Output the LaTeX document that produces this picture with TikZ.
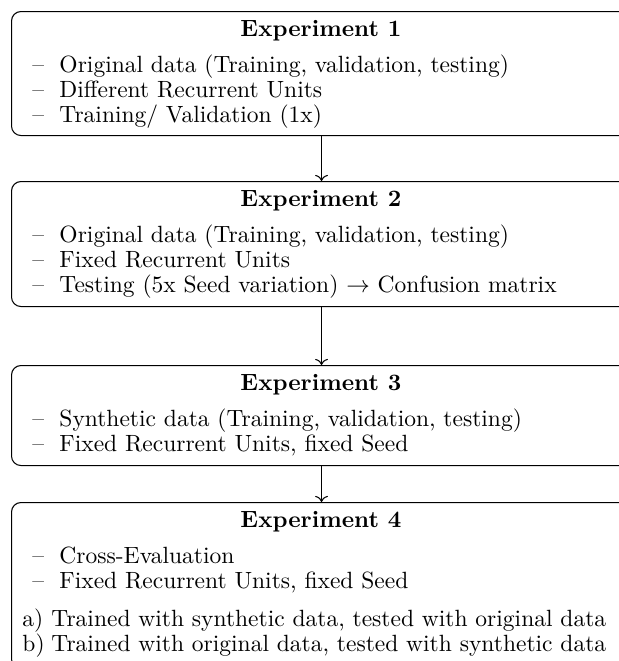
\documentclass[tikz,border=0pt]{standalone}
\usetikzlibrary{arrows.meta}
\def\pxu{0.4255pt}
\tikzset{
  expbox/.style={draw=black, line width=0.45pt, rounded corners=4pt, anchor=north west, inner sep=0pt, minimum width=620*\pxu},
  title/.style={anchor=base, inner sep=0pt, font=\bfseries},
  line/.style={anchor=base west, inner sep=0pt},
  conn/.style={->, line width=0.45pt}
}
\begin{document}
\begin{tikzpicture}[x=0.4255pt, y=-0.4255pt]
\useasboundingbox (0,0) rectangle (619,661);
\clip (0,0) rectangle (619,661);
% boxes
\node[expbox, minimum height=124*\pxu] (e1) at (11,11) {};
\node[expbox, minimum height=125*\pxu] (e2) at (11,181) {};
\node[expbox, minimum height=100*\pxu] (e3) at (11,365) {};
\node[expbox, minimum height=166*\pxu] (e4) at (11,502) {};
% experiment 1
\node[title] (t1) at (321,36) {Experiment 1};
\node[line] (d11) at (32,72) {\textendash};
\node[line] (l11) at (59,72) {Original data (Training, validation, testing)};
\node[line] (d12) at (32,97) {\textendash};
\node[line] (l12) at (59,97) {Different Recurrent Units};
\node[line] (d13) at (32,122) {\textendash};
\node[line] (l13) at (59,122) {Training/ Validation (1x)};
% experiment 2
\node[title] (t2) at (321,206) {Experiment 2};
\node[line] (d21) at (32,242) {\textendash};
\node[line] (l21) at (59,242) {Original data (Training, validation, testing)};
\node[line] (d22) at (32,267) {\textendash};
\node[line] (l22) at (59,267) {Fixed Recurrent Units};
\node[line] (d23) at (32,292) {\textendash};
\node[line] (l23) at (59,292) {Testing (5x Seed variation) $\rightarrow$ Confusion matrix};
% experiment 3
\node[title] (t3) at (321,390) {Experiment 3};
\node[line] (d31) at (32,426) {\textendash};
\node[line] (l31) at (59,426) {Synthetic data (Training, validation, testing)};
\node[line] (d32) at (32,451) {\textendash};
\node[line] (l32) at (59,451) {Fixed Recurrent Units, fixed Seed};
% experiment 4
\node[title] (t4) at (321,527) {Experiment 4};
\node[line] (d41) at (32,563) {\textendash};
\node[line] (l41) at (59,563) {Cross-Evaluation};
\node[line] (d42) at (32,588) {\textendash};
\node[line] (l42) at (59,588) {Fixed Recurrent Units, fixed Seed};
\node[line] (a41) at (22,626) {a)};
\node[line] (a42) at (51,626) {Trained with synthetic data, tested with original data};
\node[line] (b41) at (22,651) {b)};
\node[line] (b42) at (51,651) {Trained with original data, tested with synthetic data};
% connectors
\draw[conn] (e1.south) -- (e2.north);
\draw[conn] (e2.south) -- (e3.north);
\draw[conn] (e3.south) -- (e4.north);
\end{tikzpicture}
\end{document}
